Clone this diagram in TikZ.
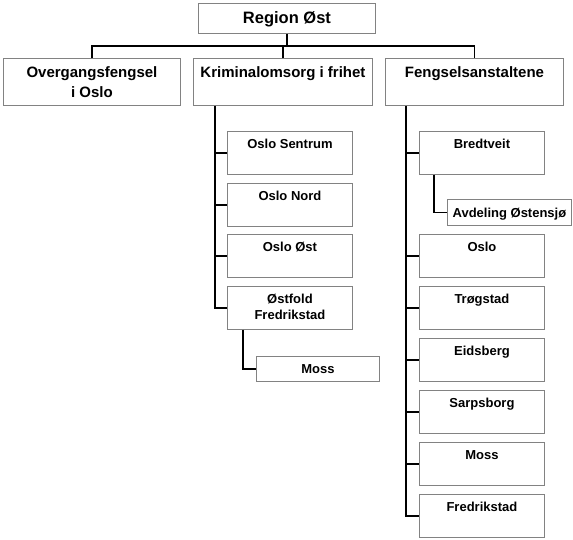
\documentclass[tikz,border=0pt]{standalone}
\usepackage{fontspec}
\setmainfont{Liberation Sans}
\definecolor{boxgray}{RGB}{130,130,130}
\newcommand\orgtxt[6]{\parbox[t][#2pt][t]{#1pt}{\centering\fontsize{#3}{#4}\selectfont\bfseries\rule{0pt}{#5pt}#6}}
\tikzset{
  orgbox/.style={draw=boxgray, line width=0.9pt, rectangle, inner sep=0pt, anchor=north west},
  conn/.style={draw=black, line width=1.1pt},
}
\begin{document}
\begin{tikzpicture}[x=1pt,y=-1pt]
\useasboundingbox[fill=white] (0,0) rectangle (573,539);
% top
\node[orgbox] (reg) at (198,3) {\orgtxt{177}{30}{16.5}{19}{20.3}{Region Øst}};
% level 1
\node[orgbox] (ovg) at (3,58) {\orgtxt{177}{47}{15}{19.4}{19.3}{Overgangsfengsel\\i Oslo}};
\node[orgbox] (krim) at (193,58) {\orgtxt{179}{47}{15}{19.4}{19.3}{Kriminalomsorg i frihet}};
\node[orgbox] (feng) at (385,58) {\orgtxt{178}{47}{15}{19.4}{19.3}{Fengselsanstaltene}};
% Kriminalomsorg children
\node[orgbox] (c1) at (227,131) {\orgtxt{125}{43}{13}{15.5}{17}{Oslo Sentrum}};
\node[orgbox] (c2) at (227,183) {\orgtxt{125}{43}{13}{15.5}{17}{Oslo Nord}};
\node[orgbox] (c3) at (227,234) {\orgtxt{125}{43}{13}{15.5}{17}{Oslo Øst}};
\node[orgbox] (c4) at (227,286) {\orgtxt{125}{43}{13}{15.5}{17.5}{Østfold\\Fredrikstad}};
\node[orgbox] (mossk) at (256,356) {\orgtxt{123}{25}{13}{15.5}{17}{Moss}};
% Fengselsanstaltene children
\node[orgbox] (f1) at (419,131) {\orgtxt{125}{43}{13}{15.5}{17.5}{Bredtveit}};
\node[orgbox] (avd) at (447,199) {\orgtxt{124}{26}{13}{15.5}{18}{Avdeling Østensjø}};
\node[orgbox] (f2) at (419,234) {\orgtxt{125}{43}{13}{15.5}{17}{Oslo}};
\node[orgbox] (f3) at (419,286) {\orgtxt{125}{43}{13}{15.5}{17}{Trøgstad}};
\node[orgbox] (f4) at (419,338) {\orgtxt{125}{43}{13}{15.5}{17}{Eidsberg}};
\node[orgbox] (f5) at (419,390) {\orgtxt{125}{43}{13}{15.5}{17}{Sarpsborg}};
\node[orgbox] (f6) at (419,442) {\orgtxt{125}{43}{13}{15.5}{17}{Moss}};
\node[orgbox] (f7) at (419,494) {\orgtxt{125}{43}{13}{15.5}{17}{Fredrikstad}};
% connectors top
\coordinate (hub) at (reg.south |- 0,46);
\draw[conn] (reg.south) -- (hub);
\draw[conn] (ovg.north) |- (hub) -| (feng.north);
\draw[conn] (krim.north) -- (krim.north |- hub);
% Kriminalomsorg spine
\coordinate (ks) at ([xshift=22pt]krim.south west);
\draw[conn] (ks) |- (c4.west);
\foreach \n in {c1,c2,c3} \draw[conn] (ks |- \n.west) -- (\n.west);
\draw[conn] ([xshift=16pt]c4.south west) |- (mossk.west);
% Fengselsanstaltene spine
\coordinate (fs) at ([xshift=21pt]feng.south west);
\draw[conn] (fs) |- (f7.west);
\foreach \n in {f1,f2,f3,f4,f5,f6} \draw[conn] (fs |- \n.west) -- (\n.west);
\draw[conn] ([xshift=15pt]f1.south west) |- (avd.west);
\end{tikzpicture}
\end{document}
